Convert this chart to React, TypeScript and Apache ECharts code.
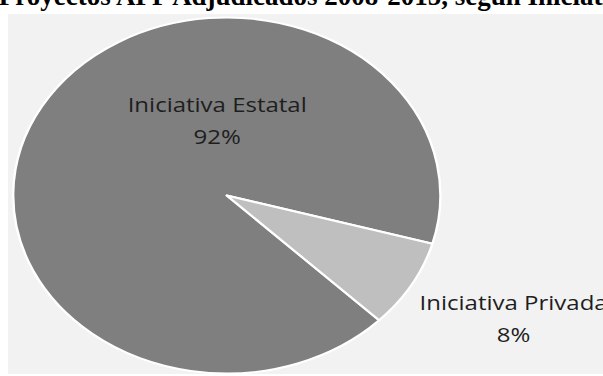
import React, { useEffect, useRef } from "react";
import * as echarts from "echarts";

const titleText = "Proyectos APP Adjudicados 2008-2015, según Iniciativa";
const categories = ["Iniciativa Estatal", "Iniciativa Privada"];
const values = [92, 8];
const colors = ["#7f7f7f", "#bfbfbf"];

// horizontal stretch of the reference picture
const SX = 1.2;
const PAGE_W = 603;
const PAGE_H = 376;
const CHART_W = PAGE_W / SX;

// label centres (chart px, before stretch)
const labelCenters: [number, number][] = [
  [181, 120],
  [428, 318],
];

export default function App() {
  const ref = useRef<HTMLDivElement>(null);

  useEffect(() => {
    if (!ref.current) return;
    const chart = echarts.init(ref.current, undefined, { renderer: "svg" });
    chart.setOption({
      animation: false,
      backgroundColor: "#ffffff",
      graphic: [
        {
          type: "rect",
          z: -10,
          shape: { x: 8 / SX, y: 14, width: CHART_W, height: 360 },
          style: { fill: "#f2f2f2" },
        },
        {
          type: "text",
          z: 100,
          x: -1,
          y: -4,
          scaleX: 1 / SX,
          style: {
            text: titleText,
            font: 'bold 27px "Liberation Serif", "Times New Roman", serif',
            fill: "#000000",
            align: "left",
            verticalAlign: "middle",
          },
        },
      ],
      series: [
        {
          type: "pie",
          center: [189, 195.5],
          radius: 178,
          startAngle: 315.5,
          clockwise: true,
          avoidLabelOverlap: false,
          itemStyle: { borderColor: "#ffffff", borderWidth: 2 },
          label: {
            show: true,
            formatter: "{b}\n{d}%",
            color: "#1e1e1e",
            fontFamily: '"Open Sans", "Noto Sans", sans-serif',
            fontSize: 20,
            lineHeight: 32,
            align: "center",
          },
          labelLine: { show: false },
          labelLayout: (params: any) => {
            const c = labelCenters[params.dataIndex];
            return { x: c[0], y: c[1], align: "center", verticalAlign: "middle" };
          },
          emphasis: { disabled: true },
          data: categories.map((name, i) => ({
            name,
            value: values[i],
            itemStyle: { color: colors[i] },
          })),
        },
      ],
    });
    return () => chart.dispose();
  }, []);

  return (
    <div
      ref={ref}
      style={{
        position: "fixed",
        left: 0,
        top: 0,
        width: CHART_W,
        height: PAGE_H,
        transform: `scaleX(${SX})`,
        transformOrigin: "0 0",
      }}
    />
  );
}
